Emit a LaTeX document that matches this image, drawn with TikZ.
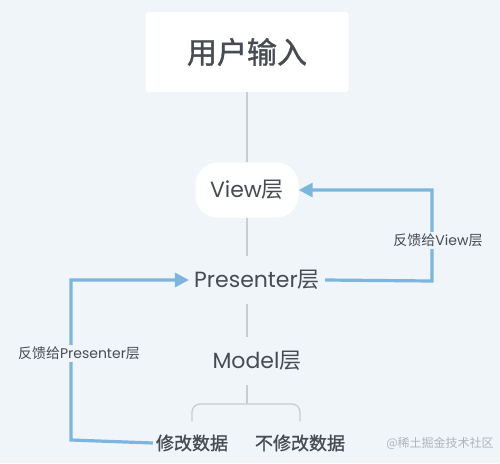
\documentclass[tikz,border=0pt]{standalone}
\usepackage{fontspec}
\setmainfont{Poppins}
\newfontfamily\cjk{Noto Sans CJK SC}
\newfontfamily\cjkbold{Noto Sans CJK SC}[FakeBold=1.2]
\usetikzlibrary{arrows.meta, positioning, calc}
\definecolor{bgcol}{HTML}{F0F5FA}
\definecolor{textcol}{HTML}{474C52}
\definecolor{stemcol}{HTML}{C8CDD2}
\definecolor{fbcol}{HTML}{7DB6DD}
\definecolor{markcol}{HTML}{AEB4BA}

\begin{document}
\begin{tikzpicture}[
    x=1pt, y=-1pt,
    every node/.style={text=textcol},
    layer/.style={font=\fontsize{22}{26}\selectfont, inner xsep=5pt, inner ysep=14pt},
    leaf/.style={font=\cjkbold\fontsize{18}{22}\selectfont, inner sep=3pt},
    stem/.style={line width=1.3pt, color=stemcol},
    feedback/.style={-{Triangle[length=14pt, width=14pt]}, line width=3.2pt, color=fbcol},
    fblabel/.style={font=\fontsize{14}{17}\selectfont, fill=bgcol, inner sep=2pt},
]

% ===== Background =====
\fill[bgcol] (0,0) rectangle (500,463);

% ===== Layers =====
\node[fill=white, rounded corners=3pt, minimum width=203pt, minimum height=80pt,
      font=\cjkbold\fontsize{30}{36}\selectfont] (input) at (247,52) {用户输入};

\node[layer, fill=white, rounded corners=22pt, minimum width=103pt, minimum height=55pt]
     (view) at (247,190) {View{\cjk 层}};

\node[layer] (pres) at (257,280) {Presenter{\cjk 层}};

\node[layer] (model) at (257,361) {Model{\cjk 层}};

% ===== Data cases =====
\node[leaf] (modify) at (192,443) {修改数据};
\node[leaf] (keep) at (300,443) {不修改数据};

\node[font=\cjk\fontsize{12}{14}\selectfont, text=markcol] (mark) at (440,443) {@稀土掘金技术社区};

% ===== Turning points =====
\coordinate (fork) at (247,404);
\coordinate (rturn) at (432,281);
\coordinate (lturn) at (71,440);

% ===== Stems =====
\draw[stem] (input.south) -- (view.north);
\draw[stem] (view.south) -- (view.south |- pres.north);
\draw[stem] (view.south |- pres.south) -- (view.south |- model.north);
\draw[stem] (view.south |- model.south) -- (fork);
\draw[stem, rounded corners=8pt] ($(modify.north)+(0,-10)$) |- (fork) -| ($(keep.north)+(0,-10)$);

% ===== Feedback arrows =====
\draw[feedback] (pres.east) -- (rturn) |- (view.east);
\node[fblabel] (fbview) at (438,240) {{\cjk 反馈给}View{\cjk 层}};

\draw[feedback] (modify.west) -- (lturn) |- (pres.west);
\node[fblabel] (fbpres) at (79,353) {{\cjk 反馈给}Presenter{\cjk 层}};

\end{tikzpicture}
\end{document}
